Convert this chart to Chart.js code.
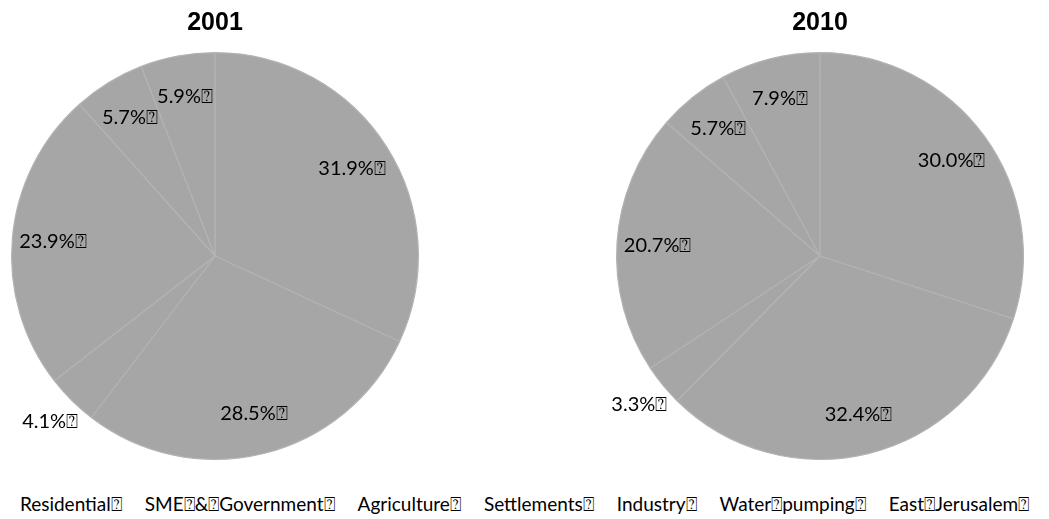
<!DOCTYPE html>
<html>
<head>
<meta charset="utf-8">
<script src="https://cdn.jsdelivr.net/npm/chart.js@4/dist/chart.umd.min.js"></script>
<style>
  body { margin: 0; background: #fff; width: 1049px; height: 519px; overflow: hidden; position: relative; font-family: Lato, sans-serif; }
  #c1 { position: absolute; left: 0; top: 0; }
  #c2 { position: absolute; left: 560px; top: 0; }
  #legend { position: absolute; left: 0; top: 492px; width: 1049px; display: flex; justify-content: center; gap: 23px; font-size: 19px; color: #000; white-space: nowrap; }
</style>
</head>
<body>
<canvas id="c1" width="430" height="475"></canvas>
<canvas id="c2" width="475" height="475"></canvas>
<div id="legend"></div>
<script>
const BOX = "\u2370";

const categories = ["Residential", "SME & Government", "Agriculture", "Settlements", "Industry", "Water pumping", "East Jerusalem"];
const values2001 = [31.9, 28.5, 4.1, 23.9, 5.7, 5.9, 0];
const values2010 = [30.0, 32.4, 3.3, 20.7, 5.7, 7.9, 0];
const sliceColors = ["#a6a6a6", "#a6a6a6", "#a6a6a6", "#a6a6a6", "#a6a6a6", "#a6a6a6", "#c0504d"];

// percentage labels, small slices go outside
const pctLabels = {
  id: "pctLabels",
  afterDraw(chart) {
    const ctx = chart.ctx;
    const meta = chart.getDatasetMeta(0);
    const data = chart.data.datasets[0].data;
    ctx.save();
    ctx.font = "20px Lato";
    ctx.fillStyle = "#000";
    ctx.textAlign = "center";
    ctx.textBaseline = "middle";
    meta.data.forEach((arc, i) => {
      const v = data[i];
      if (!v) return;
      const mid = (arc.startAngle + arc.endAngle) / 2;
      const r = arc.outerRadius * (v < 5 ? 1.15 : 0.8);
      ctx.fillText(v.toFixed(1) + "%" + BOX, arc.x + Math.cos(mid) * r, arc.y + Math.sin(mid) * r);
    });
    ctx.restore();
  }
};

function makePie(id, year, values, padLeft) {
  return new Chart(document.getElementById(id), {
    type: "pie",
    data: {
      labels: categories,
      datasets: [{
        data: values,
        backgroundColor: sliceColors,
        borderColor: "#b3b3b3",
        borderWidth: 1.2
      }]
    },
    options: {
      responsive: false,
      animation: false,
      layout: { padding: { left: padLeft, bottom: 15 } },
      plugins: {
        legend: { display: false },
        tooltip: { enabled: false },
        title: {
          display: true,
          text: year,
          color: "#000",
          font: { family: "Arial", size: 25, weight: "bold" },
          padding: { top: 8, bottom: 14 }
        }
      }
    },
    plugins: [pctLabels]
  });
}

makePie("c1", "2001", values2001, 0);
makePie("c2", "2010", values2010, 45);

const legend = document.getElementById("legend");
categories.forEach(c => {
  const span = document.createElement("span");
  span.textContent = c.replace(/ /g, BOX) + BOX;
  legend.appendChild(span);
});
</script>
</body>
</html>
